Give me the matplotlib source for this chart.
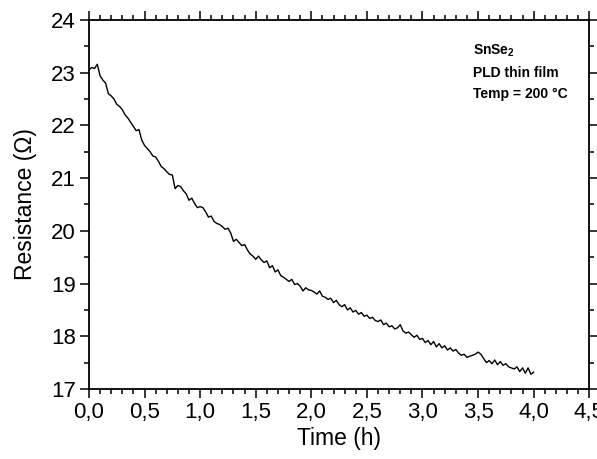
import matplotlib
matplotlib.use("Agg")
import matplotlib.pyplot as plt
from matplotlib.ticker import MultipleLocator, FuncFormatter
import numpy as np

# resistance, every 0.025 h from 0 to 4 h
resistance = [
    23.05, 23.10, 23.08, 23.16, 22.94, 22.86, 22.80, 22.60, 22.56, 22.50,
    22.40, 22.36, 22.30, 22.20, 22.14, 22.06, 21.98, 21.90, 21.92, 21.72,
    21.62, 21.56, 21.50, 21.42, 21.40, 21.32, 21.22, 21.18, 21.12, 21.07,
    21.06, 20.80, 20.86, 20.84, 20.76, 20.70, 20.58, 20.62, 20.52, 20.44,
    20.46, 20.44, 20.36, 20.26, 20.28, 20.18, 20.14, 20.12, 20.08, 20.03,
    20.05, 19.96, 19.80, 19.84, 19.78, 19.72, 19.74, 19.64, 19.56, 19.52,
    19.46, 19.52, 19.45, 19.40, 19.43, 19.30, 19.34, 19.22, 19.26, 19.15,
    19.12, 19.08, 19.04, 19.08, 18.98, 19.00, 18.95, 18.86, 18.92, 18.88,
    18.87, 18.84, 18.80, 18.86, 18.76, 18.74, 18.70, 18.72, 18.64, 18.68,
    18.60, 18.56, 18.60, 18.50, 18.54, 18.46, 18.49, 18.42, 18.45, 18.38,
    18.40, 18.34, 18.36, 18.30, 18.28, 18.31, 18.22, 18.25, 18.18, 18.20,
    18.14, 18.16, 18.22, 18.10, 18.06, 18.08, 18.03, 17.98, 18.02, 17.94,
    17.96, 17.88, 17.92, 17.84, 17.90, 17.80, 17.86, 17.78, 17.82, 17.74,
    17.78, 17.72, 17.75, 17.68, 17.64, 17.66, 17.60, 17.62, 17.64, 17.66,
    17.70, 17.66, 17.58, 17.50, 17.54, 17.48, 17.55, 17.46, 17.52, 17.45,
    17.48, 17.42, 17.40, 17.38, 17.42, 17.33, 17.40, 17.30, 17.40, 17.28,
    17.32,
]
time_h = np.linspace(0, 4, len(resistance))

notes = ["PLD thin film", "Temp = 200 \u00b0C"]

plt.rcParams['font.family'] = ['Liberation Sans', 'DejaVu Sans']
plt.rcParams['mathtext.fontset'] = 'custom'
plt.rcParams['mathtext.rm'] = 'Liberation Sans'
plt.rcParams['mathtext.bf'] = 'Liberation Sans:bold'

fig = plt.figure(figsize=(5.97, 4.59), dpi=100)
ax = fig.add_axes([0.149, 0.1525, 0.838, 0.804])

ax.plot(time_h, resistance, color='black', lw=1.0)

ax.set_xlim(0, 4.5)
ax.set_ylim(17, 24)
ax.xaxis.set_major_locator(MultipleLocator(0.5))
ax.xaxis.set_minor_locator(MultipleLocator(0.1))
ax.yaxis.set_major_locator(MultipleLocator(1))
ax.yaxis.set_minor_locator(MultipleLocator(0.5))
ax.xaxis.set_major_formatter(FuncFormatter(lambda v, p: f"{v:.1f}".replace('.', ',')))

for s in ax.spines.values():
    s.set_linewidth(1.3)
ax.tick_params(which='both', direction='out', top=True, right=True,
               labelsize=16, width=1.1)
ax.tick_params(which='major', length=6.5, pad=3)
ax.tick_params(which='minor', length=3.5)

ax.set_xlabel("Time (h)", fontsize=16.5, labelpad=3)
ax.set_ylabel("Resistance (\u03a9)", fontsize=16.5, labelpad=10)

ax.text(0.767, 0.905, r"$\mathbf{SnSe_2}$", transform=ax.transAxes,
        fontsize=10, ha='left', va='baseline')
for i, t in enumerate(notes):
    ax.text(0.767, 0.846 - i * 0.058, t, transform=ax.transAxes,
            fontsize=10, fontweight='bold', ha='left', va='baseline')

fig.savefig("out.png", dpi=100)
